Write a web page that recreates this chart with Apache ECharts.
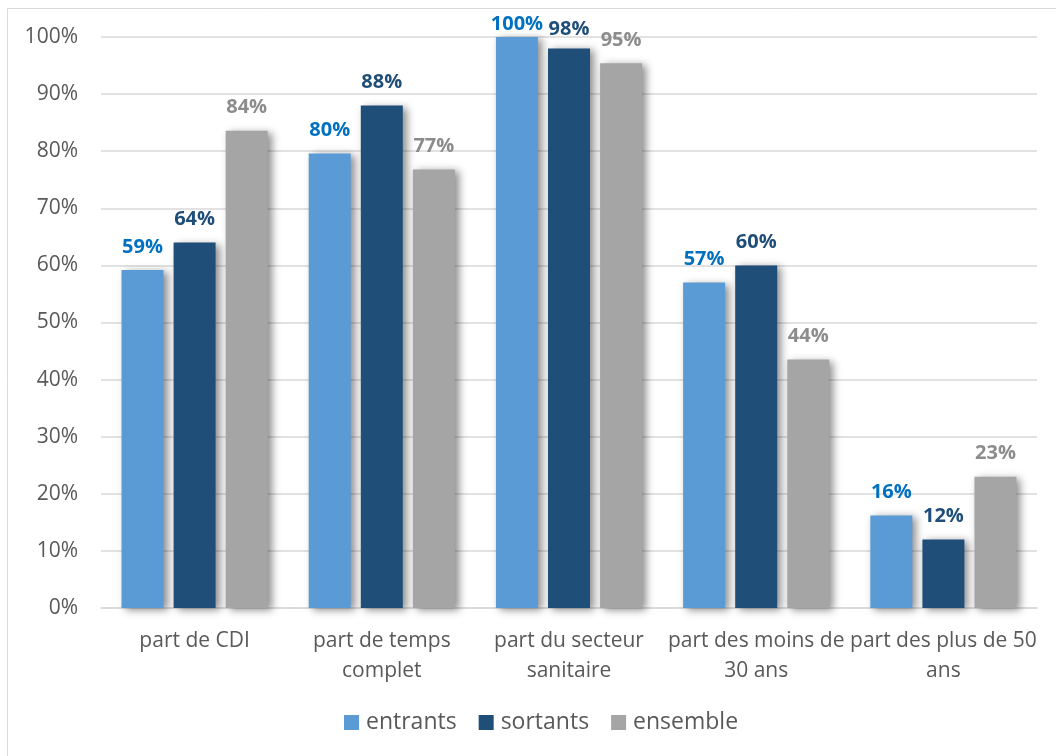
<!DOCTYPE html>
<html>
<head>
<meta charset="utf-8">
<script src="https://cdn.jsdelivr.net/npm/echarts@6/dist/echarts.min.js"></script>
<style>
html, body { margin: 0; padding: 0; background: #fff; }
#main { width: 1056px; height: 756px; }
</style>
</head>
<body>
<div id="main"></div>
<script>
var categories = ['part de CDI', 'part de temps\ncomplet', 'part du secteur\nsanitaire', 'part des moins de\n30 ans', 'part des plus de 50\nans'];
var entrants = [59.2, 79.6, 100, 57.0, 16.2];
var sortants = [64.0, 88.0, 98.0, 60.0, 12.0];
var ensemble = [83.6, 76.8, 95.4, 43.5, 23.0];
var yTicks = [0, 10, 20, 30, 40, 50, 60, 70, 80, 90, 100];

var font = '"Open Sans", "Noto Sans", sans-serif';

function make_series(name, data, color, labelColor){
    // labels that would go above the plot area are pulled down, like Excel does
    var items = data.map(function (v) {
        if (v >= 99.5) {
            return { value: v, label: { distance: 3 } };
        }
        if (v >= 97) {
            return { value: v, label: { distance: 9 } };
        }
        return v;
    });
    return {
        name: name,
        type: 'bar',
        data: items,
        barWidth: 42,
        barGap: '24%',
        itemStyle: {
            color: color,
            shadowBlur: 8,
            shadowColor: 'rgba(0, 0, 0, 0.45)',
            shadowOffsetX: 4,
            shadowOffsetY: 2
        },
        label: {
            show: true,
            position: 'top',
            distance: 13,
            color: labelColor,
            fontFamily: font,
            fontWeight: 'bold',
            fontSize: 20,
            formatter: function (p) {
                return Math.round(p.value) + '%';
            }
        }
    };
}

var myChart = echarts.init(document.getElementById('main'));
var option = {
    backgroundColor: '#fff',
    animation: false,
    graphic: [{
        type: 'rect',
        shape: { x: 7.5, y: 8.5, width: 1060, height: 760 },
        style: { fill: null, stroke: '#d9d9d9', lineWidth: 1 },
        silent: true
    }],
    grid: {
        left: 101,
        right: 19,
        top: 37,
        bottom: 148
    },
    legend: {
        bottom: 17,
        left: 339,
        itemWidth: 15,
        itemHeight: 15,
        itemGap: 22,
        icon: 'rect',
        textStyle: { color: '#595959', fontSize: 23, fontFamily: font, padding: [0, 0, 0, 2] },
        data: ['entrants', 'sortants', 'ensemble']
    },
    xAxis: {
        type: 'category',
        data: categories,
        axisTick: { show: false },
        axisLine: { lineStyle: { color: '#d9d9d9', width: 1.5 } },
        axisLabel: {
            color: '#595959',
            fontSize: 21,
            fontFamily: font,
            lineHeight: 30,
            margin: 18,
            interval: 0
        }
    },
    yAxis: {
        type: 'value',
        min: 0,
        max: 100,
        interval: 10,
        axisLine: { show: false },
        axisTick: { show: false },
        splitLine: { lineStyle: { color: '#d9d9d9', width: 1.5 } },
        axisLabel: {
            color: '#595959',
            fontSize: 21,
            fontFamily: font,
            margin: 23,
            formatter: function (v) {
                return yTicks.indexOf(v) >= 0 ? v + '%' : '';
            }
        }
    },
    series: [
        make_series('entrants', entrants, '#5b9bd5', '#0070c0'),
        make_series('sortants', sortants, '#1f4e79', '#1f4e79'),
        make_series('ensemble', ensemble, '#a5a5a5', '#8c8c8c')
    ]
};
myChart.setOption(option);
</script>
</body>
</html>
